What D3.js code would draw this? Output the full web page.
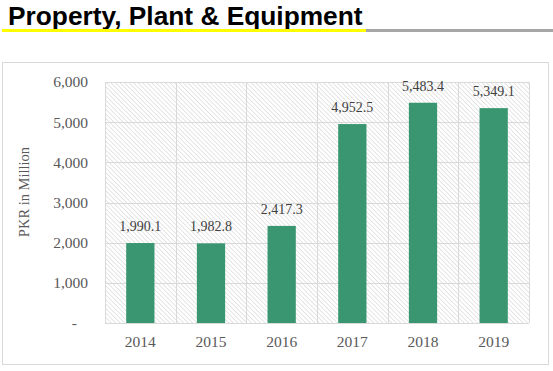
<!DOCTYPE html>
<html>
<head>
<meta charset="utf-8">
<script src="https://cdn.jsdelivr.net/npm/d3@7"></script>
<style>
  body { margin: 0; background: #fff; }
  svg { display: block; }
</style>
</head>
<body>
<div id="chart"></div>
<script>
// Chart values
const years = ["2014", "2015", "2016", "2017", "2018", "2019"];
const values = [1990.1, 1982.8, 2417.3, 4952.5, 5483.4, 5349.1];
const yTicks = [0, 1000, 2000, 3000, 4000, 5000, 6000];

const W = 553, H = 371;
const margin = { top: 82, right: 24, bottom: 48, left: 105 },
    width = W - margin.left - margin.right,
    height = H - margin.top - margin.bottom;

const svg = d3.select("#chart")
    .append("svg")
    .attr("width", W)
    .attr("height", H);

// Title with split underline
svg.append("text")
    .attr("x", 8)
    .attr("y", 25)
    .style("font-family", "Liberation Sans, Arial, sans-serif")
    .style("font-weight", "bold")
    .style("font-size", "26.3px")
    .style("fill", "#000")
    .text("Property, Plant & Equipment");

svg.append("rect").attr("x", 2).attr("y", 29).attr("width", 364).attr("height", 3).attr("fill", "#ffff00");
svg.append("rect").attr("x", 366).attr("y", 29).attr("width", 187).attr("height", 3).attr("fill", "#a6a6a6");

// Chart frame
svg.append("rect")
    .attr("x", 2.5).attr("y", 62.5)
    .attr("width", 546).attr("height", 302)
    .attr("fill", "#fff")
    .attr("stroke", "#d9d9d9");

// Hatched plot background
const defs = svg.append("defs");
const pattern = defs.append("pattern")
    .attr("id", "hatch")
    .attr("patternUnits", "userSpaceOnUse")
    .attr("width", 3.2)
    .attr("height", 3.2)
    .attr("patternTransform", "rotate(-45)");
pattern.append("line")
    .attr("x1", 0).attr("y1", 0)
    .attr("x2", 0).attr("y2", 3.2)
    .attr("stroke", "#cbcbcb")
    .attr("stroke-width", 1);

const g = svg.append("g")
    .attr("transform", `translate(${margin.left},${margin.top})`);

const x = d3.scaleBand()
    .domain(years)
    .range([0, width])
    .paddingInner(0.6)
    .paddingOuter(0.3);

const xCat = d3.scaleBand()
    .domain(years)
    .range([0, width]);

const y = d3.scaleLinear()
    .domain([0, 6000])
    .range([height, 0]);

g.append("rect")
    .attr("width", width)
    .attr("height", height)
    .attr("fill", "url(#hatch)");

// Gridlines
g.selectAll(".hgrid")
    .data(yTicks)
    .enter()
    .append("line")
    .attr("x1", 0).attr("x2", width)
    .attr("y1", d => Math.round(y(d)) + 0.5)
    .attr("y2", d => Math.round(y(d)) + 0.5)
    .attr("stroke", "#d9d9d9");

g.selectAll(".vgrid")
    .data(years.concat(["end"]))
    .enter()
    .append("line")
    .attr("x1", (d, i) => Math.round(i < years.length ? xCat(d) : width) + 0.5)
    .attr("x2", (d, i) => Math.round(i < years.length ? xCat(d) : width) + 0.5)
    .attr("y1", 0).attr("y2", height)
    .attr("stroke", "#d9d9d9");

// Bars
g.selectAll(".bar")
    .data(values)
    .enter()
    .append("rect")
    .attr("x", (d, i) => x(years[i]))
    .attr("y", d => y(d))
    .attr("width", x.bandwidth())
    .attr("height", d => height - y(d))
    .attr("fill", "#3a9670");

// Data labels
const fmt = d3.format(",.1f");
g.selectAll(".lbl")
    .data(values)
    .enter()
    .append("text")
    .attr("x", (d, i) => x(years[i]) + x.bandwidth() / 2)
    .attr("y", d => y(d) - 12)
    .attr("text-anchor", "middle")
    .style("font-family", "Liberation Serif, Times New Roman, serif")
    .style("font-size", "14px")
    .style("fill", "#404040")
    .text(d => fmt(d));

// Y axis
const yAxis = g.append("g")
    .call(d3.axisLeft(y)
        .tickValues(yTicks)
        .tickSize(0)
        .tickPadding(17)
        .tickFormat(d => d === 0 ? "-" : d3.format(",")(d)));
yAxis.select(".domain").remove();
yAxis.selectAll("text")
    .style("font-family", "Liberation Serif, Times New Roman, serif")
    .style("font-size", "15.5px")
    .style("fill", "#595959");
yAxis.selectAll("text").filter(d => d === 0).attr("dx", "-11");

// X axis
const xAxis = g.append("g")
    .attr("transform", `translate(0,${height})`)
    .call(d3.axisBottom(xCat).tickSize(0).tickPadding(13));
xAxis.select(".domain").remove();
xAxis.selectAll("text")
    .style("font-family", "Liberation Serif, Times New Roman, serif")
    .style("font-size", "15.5px")
    .style("fill", "#595959");

// Y axis title
svg.append("text")
    .attr("transform", "rotate(-90)")
    .attr("x", -192)
    .attr("y", 29)
    .attr("text-anchor", "middle")
    .style("font-family", "Liberation Serif, Times New Roman, serif")
    .style("font-size", "14.5px")
    .style("fill", "#595959")
    .text("PKR in Million");
</script>
</body>
</html>
